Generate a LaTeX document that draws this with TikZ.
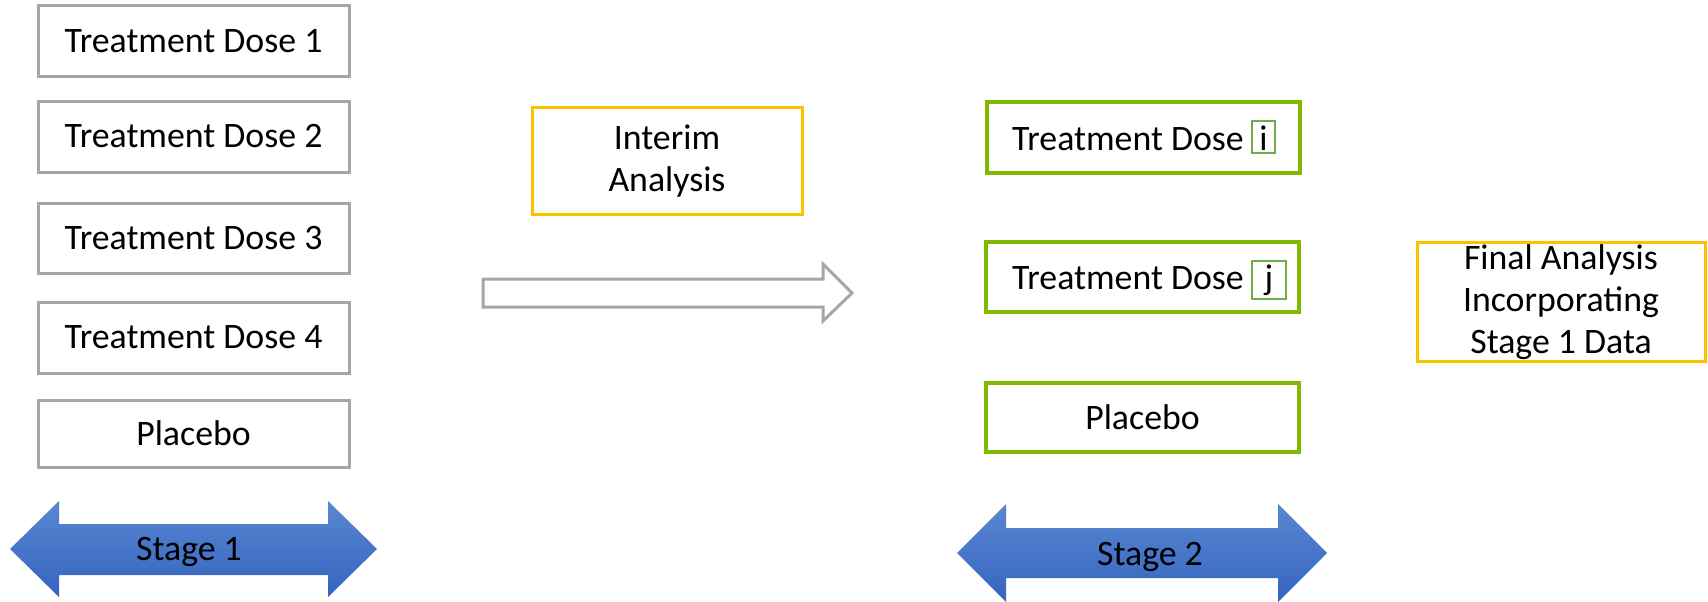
\documentclass[tikz,border=0pt]{standalone}
\usepackage{fontspec}
\setmainfont{Carlito}
\begin{document}
\begin{tikzpicture}[x=1pt,y=-1pt,
  every node/.style={font=\fontsize{35.8}{42}\selectfont, text=black, inner sep=0pt},
  graybox/.style={draw=boxgray, line width=3pt, minimum width=311pt},
  greenbox/.style={draw=boxgreen, line width=4pt, minimum width=313pt},
  yellowbox/.style={draw=boxyellow, line width=3pt, align=center},
  tagbox/.style={draw=taggreen, line width=2pt, anchor=base},
  stagearrow/.style={top color=blueTop, bottom color=blueBottom, draw=none},
  stagelabel/.style={anchor=base}
]
\definecolor{boxgray}{HTML}{A6A6A6}
\definecolor{boxgreen}{HTML}{7FBA00}
\definecolor{taggreen}{HTML}{70AD47}
\definecolor{boxyellow}{HTML}{FFC000}
\definecolor{blueTop}{HTML}{5A87D1}
\definecolor{blueBottom}{HTML}{3464C0}

\useasboundingbox (0,0) rectangle (1708,602);

% Stage 1 arms
\node[graybox, minimum height=71pt] (d1) at (193.5,41.5) {Treatment Dose 1};
\node[graybox, minimum height=71pt] (d2) at (193.5,136.5) {Treatment Dose 2};
\node[graybox, minimum height=70pt] (d3) at (193.5,238) {Treatment Dose 3};
\node[graybox, minimum height=71pt] (d4) at (193.5,337.5) {Treatment Dose 4};
\node[graybox, minimum height=67pt] (p1) at (193.5,433.5) {Placebo};

% Stage 1 span
\path[stagearrow] (10,549) -- (59,501) -- (59,524) -- (328,524) -- (328,501)
  -- (377,549) -- (328,597) -- (328,575) -- (59,575) -- (59,597) -- cycle;
\node[stagelabel] (s1) at (189,560) {Stage 1};

% Interim analysis
\node[yellowbox, minimum width=270pt, minimum height=107pt] (ia) at (667,161)
  {Interim\\Analysis};

% Transition arrow
\draw[boxgray, line width=3pt, line join=miter] (483,279) -- (823,279) -- (823,264)
  -- (852,293) -- (823,321) -- (823,307) -- (483,307) -- cycle;

% Stage 2 arms
\node[greenbox, minimum height=71pt] (g1) at (1143.5,137.5) {};
\node[anchor=base west] (t1) at (1012,150) {Treatment Dose};
\node[tagbox, minimum width=23pt, text height=29pt, text depth=3pt] (ti) at (1263.5,150) {i};
\node[greenbox, minimum height=70pt] (g2) at (1142.5,277) {};
\node[anchor=base west] (t2) at (1012,289) {Treatment Dose};
\node[tagbox, minimum width=34pt, text height=28pt, text depth=10pt] (tj) at (1269,289) {j};
\node[greenbox, minimum height=69pt] (p2) at (1142.5,417.5) {Placebo};

% Stage 2 span
\path[stagearrow] (957,553) -- (1006,504) -- (1006,528) -- (1278,528) -- (1278,504)
  -- (1327,553) -- (1278,602) -- (1278,578) -- (1006,578) -- (1006,602) -- cycle;
\node[stagelabel] (s2) at (1150,565) {Stage 2};

% Final analysis
\node[yellowbox, minimum width=288pt, minimum height=119pt,
  font=\fontsize{35.8}{42}\selectfont] (fa) at (1561,302)
  {Final Analysis\\Incorporating\\Stage 1 Data};
\end{tikzpicture}
\end{document}
